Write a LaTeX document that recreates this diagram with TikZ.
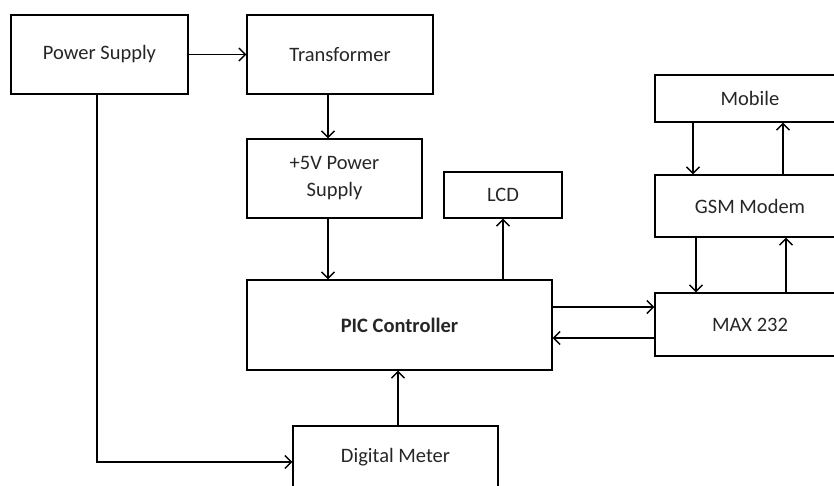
\documentclass[tikz,border=0pt]{standalone}
\usepackage{fontspec}
\setmainfont{Carlito}
\usetikzlibrary{arrows.meta,calc}

\begin{document}
\begin{tikzpicture}[x=1pt, y=-1pt, block node/.style={rectangle, draw, line width=1.4pt, text=black!85, align=center, font=\fontsize{20.5}{27}\selectfont, inner sep=0pt}, flow/.style={line width=1.4pt, -{Straight Barb[length=6.5pt,width=13pt,line width=1.4pt]}}]
\useasboundingbox (0,0) rectangle (834,485);
\clip (0,0) rectangle (834,485);

% supply
\node[block node, minimum width=177pt, minimum height=79pt] (ps) at (99.5,54.5) {Power Supply};
\node[block node, minimum width=186pt, minimum height=79pt] (tr) at (340,54.5) {Transformer};
\node[block node, minimum width=175pt, minimum height=79pt] (pv) at (334.5,178.5) {+5V Power\\Supply};

% controller
\node[block node, minimum width=305pt, minimum height=90pt, font=\fontsize{20.5}{27}\selectfont\bfseries] (pic) at (399.5,325) {PIC Controller};
\node[block node, minimum width=118pt, minimum height=46pt] (lcd) at (503,195) {LCD};
\node[block node, minimum width=205pt, text height=36pt, text depth=44pt, anchor=base] (dm) at (395.5,462) {Digital Meter};

% gsm side
\node[block node, minimum width=190pt, minimum height=47pt] (mob) at (750,98.5) {Mobile};
\node[block node, minimum width=190pt, minimum height=62pt] (gsm) at (750,206) {GSM Modem};
\node[block node, minimum width=190pt, minimum height=63pt] (max) at (750,324.5) {MAX 232};

\path[]
% supply chain
(ps.east) [flow] edge node [] {} (tr.west)
([xshift=-12pt]tr.south) [flow] edge node [] {} ([xshift=-6.5pt]pv.north)
([xshift=-6.5pt]pv.south) [flow] edge node [] {} ([xshift=-6.5pt]pv.south |- pic.north)

% controller -> lcd
(pic.north -| lcd) [flow] edge node [] {} (lcd.south)

% controller <-> max 232
([yshift=18pt]pic.east) [flow] edge node [] {} ([yshift=18pt]pic.east -| max.west)
([yshift=-13.5pt]max.west) [flow] edge node [] {} ([yshift=-13.5pt]max.west -| pic.east)

% mobile <-> gsm
([xshift=-57pt]mob.south) [flow] edge node [] {} ([xshift=-57pt]gsm.north)
([xshift=33pt]gsm.north) [flow] edge node [] {} ([xshift=33pt]mob.south)

% gsm <-> max 232
([xshift=-54pt]gsm.south) [flow] edge node [] {} ([xshift=-54pt]max.north)
([xshift=36pt]max.north) [flow] edge node [] {} ([xshift=36pt]gsm.south)

% meter
([xshift=2.5pt]dm.north) [flow] edge node [] {} ([xshift=2.5pt]dm.north |- pic.south)
([xshift=-2.5pt]ps.south) [flow] edge [to path={|- (\tikztotarget)}] node [] {} ([yshift=-4pt]dm.west |- 0,458)
;

\end{tikzpicture}
\end{document}
